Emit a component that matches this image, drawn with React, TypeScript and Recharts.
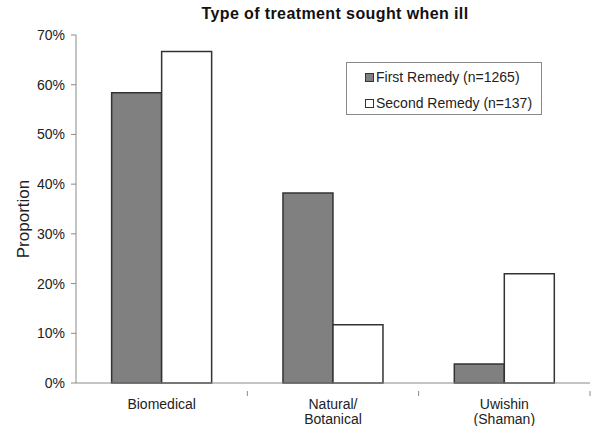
import React from "react";
import { BarChart, Bar, XAxis, YAxis, Legend } from "recharts";

const categories = ["Biomedical", "Natural/\nBotanical", "Uwishin\n(Shaman)"];
const firstRemedy = [0.584, 0.382, 0.038];
const secondRemedy = [0.667, 0.117, 0.22];
const yTicks = [0, 0.1, 0.2, 0.3, 0.4, 0.5, 0.6, 0.7];

const seriesNames = ["First Remedy (n=1265)", "Second Remedy (n=137)"];
const FONT = "'Liberation Sans', Arial, sans-serif";
const AXIS = "#8a8a8a";
const INK = "#222";

const data = categories.map((name, i) => ({
  name,
  first: firstRemedy[i],
  second: secondRemedy[i],
}));

const CategoryTick = (props: any) => {
  const { x, y, payload, index, visibleTicksCount } = props;
  const half = payload.offset || 0;
  const lines = String(payload.value).split("\n");
  return (
    <g>
      {index > 0 && <line x1={x - half} x2={x - half} y1={y} y2={y + 5} stroke={AXIS} />}
      {index === visibleTicksCount - 1 && (
        <line x1={x + half} x2={x + half} y1={y} y2={y + 5} stroke={AXIS} />
      )}
      <text x={x} y={y + 18} textAnchor="middle" fontFamily={FONT} fontSize={14} fill={INK}>
        {lines.map((l, k) => (
          <tspan key={k} x={x} dy={k === 0 ? 0 : 15}>
            {l}
          </tspan>
        ))}
      </text>
    </g>
  );
};

const LegendBox = () => (
  <div
    style={{
      border: `1px solid ${AXIS}`,
      background: "#fff",
      width: 196,
      height: 53,
      boxSizing: "border-box",
      fontFamily: FONT,
      fontSize: 14,
      color: INK,
      paddingLeft: 18,
    }}
  >
    {seriesNames.map((n, i) => (
      <div key={n} style={{ display: "flex", alignItems: "center", height: 26, marginTop: i === 0 ? 1 : 0 }}>
        <span
          style={{
            display: "inline-block",
            width: 7,
            height: 7,
            border: "1px solid #333",
            background: i === 0 ? "#808080" : "#fff",
            marginRight: 2,
          }}
        />
        {n}
      </div>
    ))}
  </div>
);

export default function App() {
  return (
    <div style={{ position: "absolute", left: 0, top: 0, width: 598, height: 426, background: "#fff" }}>
      <div
        style={{
          position: "absolute",
          left: 0,
          width: 670,
          top: 5,
          textAlign: "center",
          fontFamily: FONT,
          fontWeight: "bold",
          fontSize: 16,
          letterSpacing: 0.4,
          color: "#111",
        }}
      >
        Type of treatment sought when ill
      </div>
      <BarChart
        width={598}
        height={426}
        data={data}
        margin={{ top: 35, right: 8, bottom: 0, left: 0 }}
        barCategoryGap="20.8%"
        barGap={0}
      >
        <XAxis
          dataKey="name"
          height={43}
          axisLine={{ stroke: AXIS }}
          tickLine={false}
          tick={<CategoryTick />}
          interval={0}
        />
        <YAxis
          width={76}
          domain={[0, 0.7]}
          ticks={yTicks}
          tickFormatter={(v: number) => `${Math.round(v * 100)}%`}
          axisLine={{ stroke: AXIS }}
          tickLine={{ stroke: AXIS }}
          tickSize={5}
          tickMargin={6}
          tick={{ fontFamily: FONT, fontSize: 14, fill: INK }}
          label={{
            content: () => (
              <text
                x={23}
                y={219}
                transform="rotate(-90 23 219)"
                textAnchor="middle"
                dominantBaseline="central"
                fontFamily={FONT}
                fontSize={17}
                fill={INK}
              >
                Proportion
              </text>
            ),
          }}
        />
        <Legend
          layout="vertical"
          align="center"
          verticalAlign="middle"
          content={<LegendBox />}
          wrapperStyle={{ left: 346, top: 62, width: 196, height: 53 }}
        />
        <Bar dataKey="first" name={seriesNames[0]} fill="#808080" stroke="#333" strokeWidth={1.5} isAnimationActive={false} />
        <Bar dataKey="second" name={seriesNames[1]} fill="#fff" stroke="#333" strokeWidth={1.5} isAnimationActive={false} />
      </BarChart>
    </div>
  );
}
